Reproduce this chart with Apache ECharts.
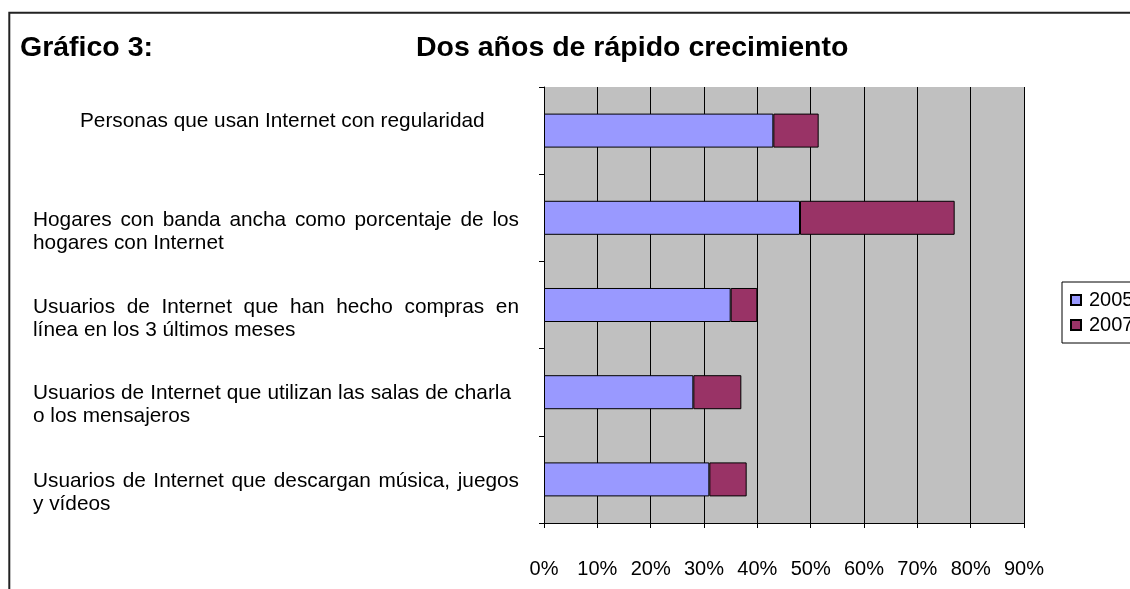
<!DOCTYPE html>
<html><head><meta charset="utf-8">
<script src="https://cdn.jsdelivr.net/npm/echarts@6/dist/echarts.min.js"></script>
<style>html,body{margin:0;padding:0;background:#fff}#c{width:1130px;height:589px}</style>
</head><body><div id="c"></div>
<script>
// ---- data ----
const categoryLines = [
  ['Personas que usan Internet con regularidad'],
  ['Hogares con banda ancha como porcentaje de los', 'hogares con Internet'],
  ['Usuarios de Internet que han hecho compras en', 'línea en los 3 últimos meses'],
  ['Usuarios de Internet que utilizan las salas de charla', 'o los mensajeros'],
  ['Usuarios de Internet que descargan música, juegos', 'y vídeos']
];
const categories = categoryLines.map(l => l.join(' '));
const seriesNames = ['2005', '2007'];
const values2005 = [43, 48, 35, 28, 31];
const values2007 = [8.5, 29, 5, 9, 7];
const xTickValues = [0, 10, 20, 30, 40, 50, 60, 70, 80, 90];
const titleLeft = 'Gráfico 3:';
const titleMain = 'Dos años de rápido crecimiento';

// ---- layout / style ----
const FAMILY = '"Liberation Sans", Arial, sans-serif';
const LABEL_FONT = 20.8;
const LINE_H = 23;
const justifyWidth = [null, 486, 486, 478, 486];
const labelIndent = [47, 0, 0, 0, 0];
const labelShift = [-9.5, 13.5, 13.5, 13, 13.5];

const ctx = document.createElement('canvas').getContext('2d');
ctx.font = LABEL_FONT + 'px "Liberation Sans"';
const baseTok = { fontSize: LABEL_FONT, fontFamily: FAMILY, color: '#000', lineHeight: LINE_H, align: 'left' };
const rich = { t: Object.assign({}, baseTok) };
const labelStrings = categoryLines.map((lines, i) => {
  const out = lines.map((line, j) => {
    const W = justifyWidth[i];
    if (W && j === 0 && lines.length > 1) {
      const words = line.split(' ');
      const ww = words.reduce((s, w) => s + ctx.measureText(w).width, 0);
      const sp = (W - ww) / (words.length - 1);
      rich['s' + i] = Object.assign({}, baseTok, { width: sp });
      return words.map(w => '{t|' + w + '}').join('{s' + i + '| }');
    }
    return '{t|' + line + '}';
  });
  if (labelIndent[i]) {
    rich['p' + i] = Object.assign({}, baseTok, { width: labelIndent[i] });
    out[0] = '{p' + i + '| }' + out[0];
  }
  return out.join('\n');
});

const chart = echarts.init(document.getElementById('c'), null, { renderer: 'canvas' });
const barBorder = { borderColor: '#000', borderWidth: 1 };
chart.setOption({
  animation: false,
  backgroundColor: '#fff',
  graphic: [{
    type: 'rect', silent: true, z: 100,
    shape: { x: 9.3, y: 12.7, width: 1400, height: 800 },
    style: { fill: 'none', stroke: '#222', lineWidth: 2 }
  }],
  title: [
    { text: titleLeft, left: 20, top: 34, padding: 0,
      textStyle: { fontSize: 28.5, fontWeight: 'bold', fontFamily: FAMILY, color: '#000' } },
    { text: titleMain, left: 416, top: 34, padding: 0,
      textStyle: { fontSize: 28.5, fontWeight: 'bold', fontFamily: FAMILY, color: '#000' } }
  ],
  legend: {
    orient: 'vertical', left: 1062, top: 282, padding: [8, 20, 8, 8],
    itemGap: 5, itemWidth: 10, itemHeight: 10, icon: 'rect',
    borderColor: '#000', borderWidth: 1, backgroundColor: '#fff',
    textStyle: { fontSize: 20, fontFamily: FAMILY, color: '#000', padding: [0, 0, 0, 3] },
    data: seriesNames
  },
  grid: {
    left: 544, top: 87, right: 106, bottom: 66,
    show: true, backgroundColor: '#c0c0c0', borderWidth: 0,
    containLabel: false, outerBoundsMode: 'none'
  },
  xAxis: {
    type: 'value', min: xTickValues[0], max: xTickValues[xTickValues.length - 1], interval: 10,
    axisLine: { show: true, lineStyle: { color: '#000', width: 1 } },
    axisTick: { show: true, length: 5, lineStyle: { color: '#000' } },
    splitLine: { show: true, lineStyle: { color: '#000', width: 1 } },
    axisLabel: { margin: 36, fontSize: 20, fontFamily: FAMILY, color: '#000', formatter: '{value}%' }
  },
  yAxis: {
    type: 'category', inverse: true,
    data: categories.map((c, i) => ({
      value: c,
      textStyle: {
        align: 'left', verticalAlign: 'middle',
        padding: labelShift[i] > 0 ? [2 * labelShift[i], 0, 0, 0] : [0, 0, -2 * labelShift[i], 0]
      }
    })),
    axisLine: { show: true, lineStyle: { color: '#000', width: 1 } },
    axisTick: { show: true, length: 5, lineStyle: { color: '#000' } },
    splitLine: { show: false },
    axisLabel: {
      interval: 0, align: 'left', verticalAlign: 'middle', margin: 511,
      formatter: (v, idx) => labelStrings[idx], rich: rich
    }
  },
  series: [
    { name: seriesNames[0], type: 'bar', stack: 'total', barWidth: '39%', data: values2005,
      itemStyle: Object.assign({ color: '#9999ff' }, barBorder) },
    { name: seriesNames[1], type: 'bar', stack: 'total', barWidth: '39%', data: values2007,
      itemStyle: Object.assign({ color: '#993366' }, barBorder) }
  ]
});
</script></body></html>
